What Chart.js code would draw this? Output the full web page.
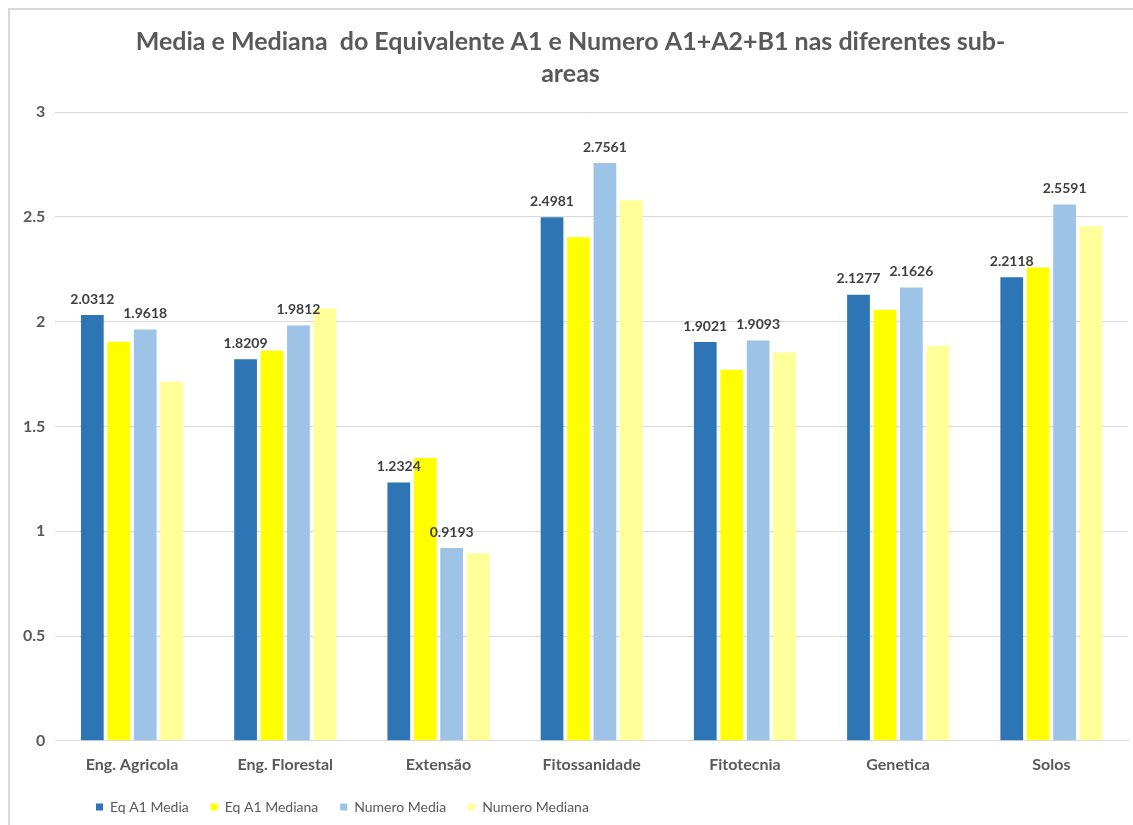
<!DOCTYPE html>
<html>
<head>
<meta charset="utf-8">
<script src="https://cdn.jsdelivr.net/npm/chart.js@4.4.1/dist/chart.umd.min.js"></script>
<style>
    html, body { margin: 0; padding: 0; background: #fff; }
    #moldura {
        position: absolute; left: 8px; top: 8px;
        width: 1140px; height: 830px;
        border-top: 2px solid #d9d9d9; border-left: 2px solid #d9d9d9;
    }
    #wrap { position: absolute; left: 10px; top: 10px; width: 1123px; height: 815px; }
</style>
</head>
<body>
<div id="moldura"></div>
<div id="wrap"><canvas id="grafico"></canvas></div>
<script>
// Dados
const subareas = ['Eng. Agricola', 'Eng. Florestal', 'Extensão', 'Fitossanidade', 'Fitotecnia', 'Genetica', 'Solos'];
const eqA1Media = [2.0312, 1.8209, 1.2324, 2.4981, 1.9021, 2.1277, 2.2118];
const eqA1Mediana = [1.904, 1.861, 1.349, 2.402, 1.770, 2.057, 2.258];
const numeroMedia = [1.9618, 1.9812, 0.9193, 2.7561, 1.9093, 2.1626, 2.5591];
const numeroMediana = [1.713, 2.062, 0.895, 2.579, 1.852, 1.885, 2.455];
const yTicks = [0, 0.5, 1, 1.5, 2, 2.5, 3];

const cinza = '#595959';
const fonte = "'Lato', 'Open Sans', sans-serif";

// rotulos so nas series de media
const rotulos = {
    id: 'rotulos',
    afterDatasetsDraw(chart) {
        const ctx = chart.ctx;
        ctx.save();
        ctx.font = "bold 14px " + fonte;
        ctx.fillStyle = '#404040';
        ctx.textAlign = 'center';
        ctx.textBaseline = 'bottom';
        [0, 2].forEach(i => {
            const meta = chart.getDatasetMeta(i);
            meta.data.forEach((bar, j) => {
                const v = chart.data.datasets[i].data[j];
                ctx.fillText(v.toFixed(4), bar.x, bar.y - 9);
            });
        });
        ctx.restore();
    }
};

// ajusta a posicao da legenda
const legendaDesloc = {
    id: 'legendaDesloc',
    afterLayout(chart) {
        chart.legend.left += 61;
        chart.legend.top -= 2;
        chart.legend.bottom -= 2;
    }
};

new Chart(document.getElementById('grafico'), {
    type: 'bar',
    data: {
        labels: subareas,
        datasets: [
            { label: 'Eq A1 Media', data: eqA1Media, backgroundColor: '#2e75b6' },
            { label: 'Eq A1 Mediana', data: eqA1Mediana, backgroundColor: '#ffff00' },
            { label: 'Numero Media', data: numeroMedia, backgroundColor: '#9dc3e6' },
            { label: 'Numero Mediana', data: numeroMediana, backgroundColor: '#ffff99' }
        ]
    },
    options: {
        responsive: true,
        maintainAspectRatio: false,
        animation: false,
        datasets: { bar: { barPercentage: 0.86, categoryPercentage: 0.69 } },
        layout: { padding: { left: 3, right: 5, top: 16, bottom: -1 } },
        plugins: {
            title: {
                display: true,
                text: ['Media e Mediana  do Equivalente A1 e Numero A1+A2+B1 nas diferentes sub-', 'areas'],
                color: cinza,
                font: { family: fonte, size: 25, weight: 'bold', lineHeight: 1.28 },
                padding: { top: 0, bottom: 22 }
            },
            legend: {
                position: 'bottom',
                align: 'start',
                labels: {
                    boxWidth: 7, boxHeight: 7,
                    color: cinza,
                    font: { family: fonte, size: 14 },
                    padding: 22
                }
            },
            tooltip: { enabled: false }
        },
        scales: {
            x: {
                grid: { display: false },
                border: { display: true, color: '#d9d9d9' },
                ticks: { color: cinza, font: { family: fonte, size: 16, weight: 'bold' }, padding: 6 }
            },
            y: {
                min: 0, max: 3,
                afterBuildTicks(axis) { axis.ticks = yTicks.map(v => ({ value: v })); },
                grid: { color: '#d9d9d9', drawTicks: false },
                border: { display: false },
                ticks: {
                    color: cinza, font: { family: fonte, size: 16, weight: 'bold' }, padding: 10,
                    callback: v => String(v)
                }
            }
        }
    },
    plugins: [rotulos, legendaDesloc]
});
</script>
</body>
</html>
